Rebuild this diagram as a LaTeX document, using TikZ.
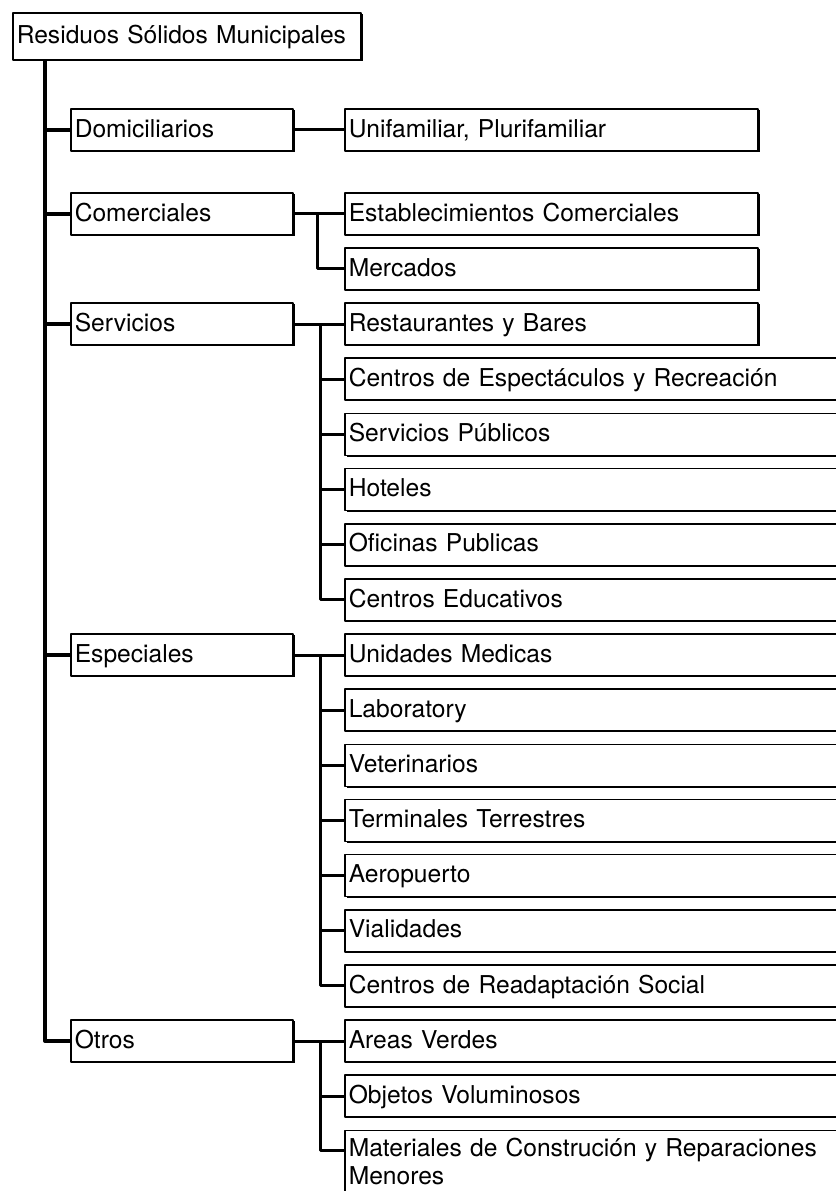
\documentclass[tikz,border=0pt]{standalone}
\usepackage{fontspec}
\setmainfont{TeX Gyre Heros}
\usetikzlibrary{shadows}
\begin{document}
\begin{tikzpicture}[x=0.5pt,y=-0.5pt,font=\fontsize{12.3}{13.8}\selectfont,line join = round, line cap = rect,
	caja/.style={draw,line width=0.8pt,fill=white,anchor=north west,align=left,inner xsep=2pt,inner ysep=0pt,minimum height=21pt,text height=0.72em,text depth=0pt,drop shadow={shadow xshift=0.9pt,shadow yshift=-0.6pt,opacity=1,fill=black}},
	nivel/.style={caja,text width=107pt},
	corta/.style={caja,text width=202.5pt},
	larga/.style={caja,text width=256pt},
	rama/.style={line width=1.5pt},
	tronco/.style={line width=2pt}]
	\def\dy{55.15}
	\fill[white,use as bounding box] (0,0) rectangle (836,1191);
	\clip (0,0) rectangle (836,1191);
	\node[caja,text width=170pt,minimum height=23.5pt] (rsm) at (12,12) {Residuos Sólidos Municipales};
	\node[nivel] (dom) at (70,108) {Domiciliarios};\node[nivel] (com) at (70,192) {Comerciales};
	\node[nivel] (serv) at (70,{192+2*\dy}) {Servicios};\node[nivel] (esp) at (70,{192+8*\dy}) {Especiales};
	\node[nivel] (otros) at (70,{192+15*\dy}) {Otros};
	\node[corta] (uni) at (344,108) {Unifamiliar, Plurifamiliar};
	\foreach \n/\t/\k/\s in {est/Establecimientos Comerciales/0/corta,mer/Mercados/1/corta,res/Restaurantes y Bares/2/corta,
		cen/Centros de Espectáculos y Recreación/3/larga,spu/Servicios Públicos/4/larga,hot/Hoteles/5/larga,
		ofi/Oficinas Publicas/6/larga,edu/Centros Educativos/7/larga,med/Unidades Medicas/8/larga,lab/Laboratory/9/larga,
		vet/Veterinarios/10/larga,ter/Terminales Terrestres/11/larga,aer/Aeropuerto/12/larga,via/Vialidades/13/larga,
		rea/Centros de Readaptación Social/14/larga,are/Areas Verdes/15/larga,obj/Objetos Voluminosos/16/larga}
		\node[\s] (\n) at (344,{192+\k*\dy}) {\t};
	\node[larga,inner ysep=6pt,text depth=30pt] (mat) at (344,{192+17*\dy}) {Materiales de Construción y Reparaciones\\Menores};
	% tronco
	\draw[tronco] (rsm.south west) ++(33,0) |- (otros.west);
	\foreach \n in {dom,com,serv,esp} \draw[tronco] (rsm.south west) ++(33,0) |- (\n.west);
	\draw[rama] (dom.east) -- (uni.west);
	\draw[rama] (com.east) -- (est.west);\draw[rama] (com.east) ++(24,0) |- (mer.west);
	\draw[rama] (serv.east) -- (res.west);
	\foreach \n in {cen,spu,hot,ofi,edu} \draw[rama] (res.west) ++(-24,0) |- (\n.west);
	\draw[rama] (esp.east) -- (med.west);
	\foreach \n in {lab,vet,ter,aer,via,rea} \draw[rama] (med.west) ++(-24,0) |- (\n.west);
	\draw[rama] (otros.east) -- (are.west);\draw[rama] (are.west) ++(-24,0) |- (obj.west);
	\draw[rama] (are.west) ++(-24,0) |- ([yshift=-10.5pt]mat.north west);
\end{tikzpicture}
\end{document}
